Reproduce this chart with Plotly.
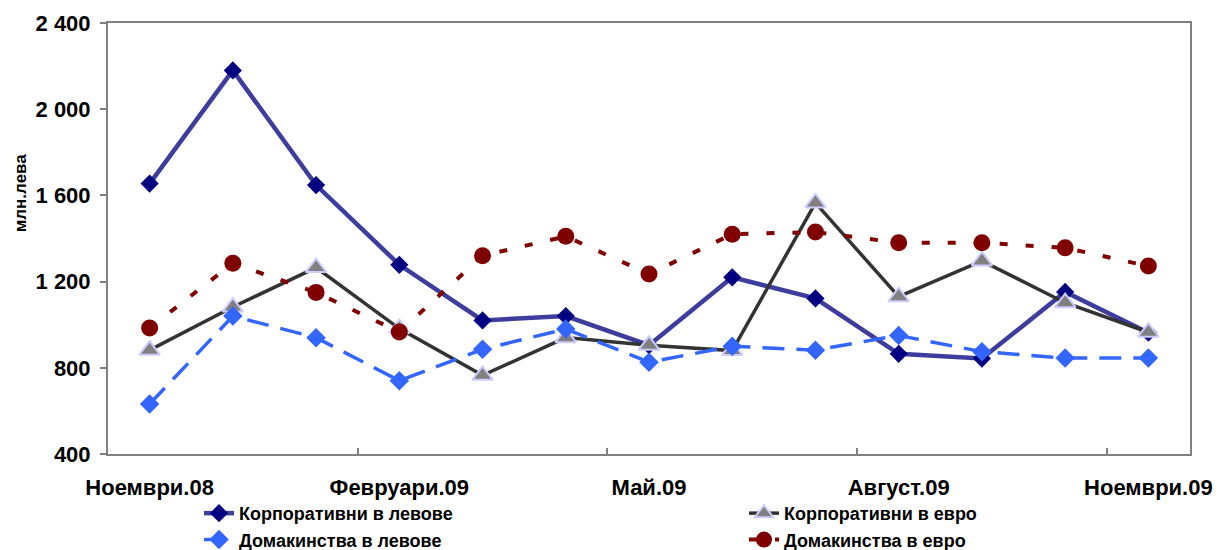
import plotly.graph_objects as go

months = ['Ноември.08', 'Декември.08', 'Януари.09', 'Февруари.09', 'Март.09', 'Април.09',
          'Май.09', 'Юни.09', 'Юли.09', 'Август.09', 'Септември.09', 'Октомври.09', 'Ноември.09']

corp_bgn = [1655, 2180, 1648, 1278, 1020, 1040, 905, 1220, 1122, 865, 843, 1152, 963]
corp_eur = [882, 1082, 1265, 982, 765, 940, 905, 880, 1565, 1130, 1296, 1102, 965]
hh_bgn = [632, 1040, 940, 740, 886, 980, 826, 900, 882, 950, 875, 845, 845]
hh_eur = [985, 1285, 1150, 966, 1320, 1410, 1235, 1420, 1430, 1380, 1380, 1357, 1272]

y_ticks = [400, 800, 1200, 1600, 2000, 2400]
y_labels = ['400', '800', '1 200', '1 600', '2 000', '2 400']

font = 'Liberation Sans, Arial, sans-serif'
x = list(range(len(months)))

fig = go.Figure()
# left legend column: the "в левове" series, right column: the "в евро" series
fig.add_trace(go.Scatter(x=x, y=corp_bgn, name='Корпоративни в левове', mode='lines+markers',
                         line=dict(color='#3d3d9e', width=4.5),
                         marker=dict(symbol='diamond', size=14, color='#000080'),
                         legend='legend', legendrank=1))
fig.add_trace(go.Scatter(x=x, y=corp_eur, name='Корпоративни в евро', mode='lines+markers',
                         line=dict(color='#333333', width=3.5),
                         marker=dict(symbol='triangle-up', size=18, color='#808080',
                                     line=dict(color='#ccccff', width=2)),
                         legend='legend2', legendrank=1))
fig.add_trace(go.Scatter(x=x, y=hh_bgn, name='Домакинства в левове', mode='lines+markers',
                         line=dict(color='#3366ff', width=3.5, dash='22px,12px'),
                         marker=dict(symbol='diamond', size=15, color='#3366ff'),
                         legend='legend', legendrank=2))
fig.add_trace(go.Scatter(x=x, y=hh_eur, name='Домакинства в евро', mode='lines+markers',
                         line=dict(color='#800000', width=4, dash='8px,18px'),
                         marker=dict(symbol='circle', size=17, color='#800000'),
                         legend='legend2', legendrank=2))

# page body adds an 8px offset, so the figure is 8px smaller than the window
leg = dict(orientation='v', xanchor='left', y=-0.095, yanchor='top', tracegroupgap=0,
           font=dict(family=font, size=18, weight='bold'), bgcolor='rgba(0,0,0,0)')
fig.update_layout(
    width=1213, height=542,
    margin=dict(l=100, r=31, t=15, b=96, autoexpand=False),
    paper_bgcolor='white', plot_bgcolor='white',
    font=dict(family=font, size=20, color='black', weight='bold'),
    legend=dict(leg, x=0.0841),
    legend2=dict(leg, x=0.5878),
    annotations=[dict(text='млн.лева', textangle=-90, xref='paper', yref='paper',
                      x=-0.0813, y=0.605, xanchor='center', yanchor='middle', showarrow=False,
                      font=dict(family=font, size=17, weight='bold'))],
)
fig.update_xaxes(range=[-0.5, 12.5], tickmode='array', tickvals=x[::3], ticktext=months[::3],
                 ticks='', showgrid=False, zeroline=False,
                 showline=True, linecolor='#808080', linewidth=2, mirror=True,
                 tickfont=dict(size=22), ticklabelstandoff=13,
                 minor=dict(tickmode='array', tickvals=[2.5, 5.5, 8.5, 11.5], ticks='inside',
                            ticklen=6, tickcolor='#808080', tickwidth=1.5, showgrid=False))
fig.update_yaxes(range=[400, 2400], tickmode='array', tickvals=y_ticks, ticktext=y_labels,
                 ticks='outside', ticklen=6, tickcolor='#808080', tickwidth=1.5,
                 showgrid=False, zeroline=False,
                 showline=True, linecolor='#808080', linewidth=2, mirror=True,
                 tickfont=dict(size=22), ticklabelstandoff=5)

fig.write_html('out.html')
